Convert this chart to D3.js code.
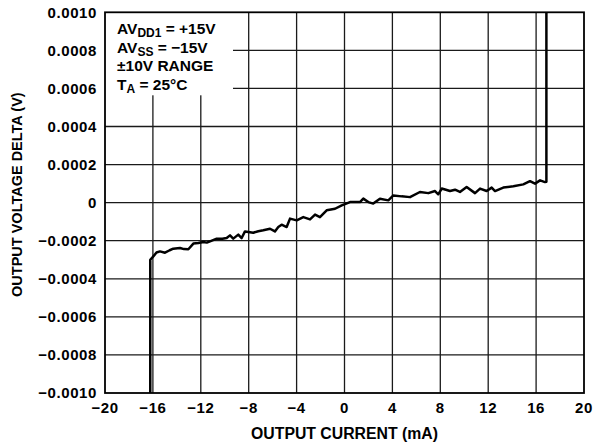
<!DOCTYPE html>
<html>
<head>
<meta charset="utf-8">
<script src="https://cdn.jsdelivr.net/npm/d3@7"></script>
<style>
  html, body { margin: 0; padding: 0; background: #fff; }
  svg { display: block; font-family: "Liberation Sans", Arial, Helvetica, sans-serif; font-weight: bold; }
</style>
</head>
<body>
<svg id="chart" width="596" height="446"></svg>
<script>
// ---- data ----
const currentMA = [
  -16.22, -16.22, -16.0, -15.7, -15.41, -14.99, -14.6, -14.3, -13.74, -13.4, -13.04,
  -12.62, -12.2, -11.79, -11.5, -11.23, -10.67, -10.2, -9.84, -9.56, -9.29, -8.87,
  -8.59, -8.31, -7.62, -7.2, -6.78, -6.22, -5.81, -5.53, -5.25, -4.83, -4.55, -3.99,
  -3.44, -2.88, -2.46, -2.05, -1.49, -0.79, -0.23, 0.46, 1.29, 1.57, 1.99, 2.40, 2.96,
  3.66, 4.08, 4.77, 5.47, 6.30, 7.0, 7.56, 7.83, 8.12, 8.81, 9.23, 9.64, 10.2, 10.9,
  11.32, 11.87, 12.29, 12.57, 13.26, 14.1, 14.93, 15.49, 15.91, 16.33, 16.74, 16.86, 16.86
];
const voltageDelta = [
  -0.00110, -0.000300, -0.000285, -0.000262, -0.000256, -0.000263, -0.000250,
  -0.000242, -0.000238, -0.000244, -0.000245, -0.000215, -0.000212, -0.000207,
  -0.000210, -0.000203, -0.000189, -0.000190, -0.000186, -0.000172, -0.000189,
  -0.000168, -0.000186, -0.000151, -0.000158, -0.000150, -0.000145, -0.000137,
  -0.000151, -0.000128, -0.000116, -0.000128, -0.000084, -0.000093, -0.000076,
  -0.000088, -0.000063, -0.000076, -0.000040, -0.000032, -0.000014, 0.000003,
  0.000003, 0.000021, 0.000003, -0.000005, 0.000021, 0.000012, 0.000038, 0.000033,
  0.000029, 0.000056, 0.000050, 0.000061, 0.000044, 0.000074, 0.000061, 0.000068,
  0.000056, 0.000082, 0.000050, 0.000074, 0.000061, 0.000079, 0.000061, 0.000079,
  0.000086, 0.000096, 0.000113, 0.000100, 0.000117, 0.000108, 0.000110, 0.00110
];
const xTicks = [-20, -16, -12, -8, -4, 0, 4, 8, 12, 16, 20];
const yTicks = [-0.0010, -0.0008, -0.0006, -0.0004, -0.0002, 0, 0.0002, 0.0004, 0.0006, 0.0008, 0.0010];
const legendLines = [
  ["AV", "DD1", " = +15V"],
  ["AV", "SS", " = \u221215V"],
  ["\u00B110V RANGE", "", ""],
  ["T", "A", " = 25\u00B0C"]
];
const xTitle = "OUTPUT CURRENT (mA)";
const yTitle = "OUTPUT VOLTAGE DELTA (V)";

// ---- layout ----
const L = 105, R = 584, T = 12.3, B = 393;
const svg = d3.select("#chart");
const x = d3.scaleLinear().domain([-20, 20]).range([L, R]);
const y = d3.scaleLinear().domain([-0.0010, 0.0010]).range([B, T]);

const fmtY = v => {
  if (Math.abs(v) < 1e-12) return "0";
  const s = Math.abs(v).toFixed(4);
  return (v < 0 ? "\u2212" : "") + s;
};
const fmtX = v => (v < 0 ? "\u2212" : "") + Math.abs(v);

// grid
const grid = svg.append("g").attr("stroke", "#1a1a1a").attr("stroke-width", 1.3);
grid.selectAll("line.v").data(xTicks.slice(1, -1)).join("line")
  .attr("x1", d => x(d)).attr("x2", d => x(d)).attr("y1", T).attr("y2", B);
grid.selectAll("line.h").data(yTicks.slice(1, -1)).join("line")
  .attr("x1", L).attr("x2", R).attr("y1", d => y(d)).attr("y2", d => y(d));

// legend box (white, covers grid)
svg.append("rect").attr("x", L).attr("y", T).attr("width", 128).attr("height", 83).attr("fill", "#fff");

// data line
svg.append("clipPath").attr("id", "clip").append("rect")
  .attr("x", L).attr("y", T).attr("width", R - L).attr("height", B - T);
const pts = currentMA.map((c, i) => [c, voltageDelta[i]]);
const line = d3.line().x(d => x(d[0])).y(d => y(d[1]));
svg.append("path").datum(pts).attr("clip-path", "url(#clip)")
  .attr("d", line).attr("fill", "none").attr("stroke", "#000")
  .attr("stroke-width", 2.5).attr("stroke-linejoin", "round");

// frame
svg.append("rect").attr("x", L).attr("y", T).attr("width", R - L).attr("height", B - T)
  .attr("fill", "none").attr("stroke", "#000").attr("stroke-width", 1.8);

// y tick labels
svg.append("g").selectAll("text").data(yTicks).join("text")
  .attr("x", 97).attr("y", d => y(d)).attr("dy", "0.36em")
  .attr("text-anchor", "end").attr("font-size", 15).attr("letter-spacing", 0.6).text(fmtY);

// x tick labels
svg.append("g").selectAll("text").data(xTicks).join("text")
  .attr("x", d => x(d)).attr("y", 413)
  .attr("text-anchor", "middle").attr("font-size", 15).attr("letter-spacing", 0.6).text(fmtX);

// axis titles
svg.append("text").attr("x", (L + R) / 2).attr("y", 439).attr("text-anchor", "middle")
  .attr("font-size", 15.8).text(xTitle);
svg.append("text").attr("transform", `translate(21.5,${(T + B) / 2 - 8}) rotate(-90)`)
  .attr("text-anchor", "middle").attr("font-size", 14.5).text(yTitle);

// legend text
const lg = svg.append("g").attr("font-size", 15.5);
legendLines.forEach((parts, i) => {
  const t = lg.append("text").attr("x", 117).attr("y", 34 + i * 18.7);
  t.append("tspan").text(parts[0]);
  if (parts[1]) t.append("tspan").attr("font-size", 12).attr("dy", 3).text(parts[1]);
  if (parts[2]) t.append("tspan").attr("dy", parts[1] ? -3 : 0).text(parts[2]);
});
</script>
</body>
</html>
